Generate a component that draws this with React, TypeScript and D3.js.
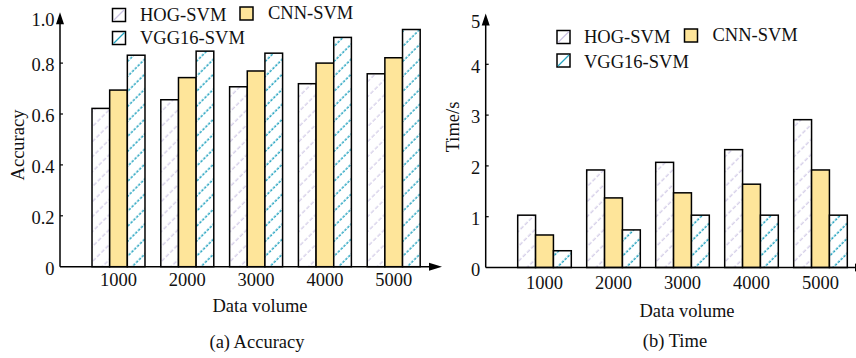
import React from 'react';
import * as d3 from 'd3';

// ---------- data ----------
const categories = ['1000', '2000', '3000', '4000', '5000'];
const seriesNames = ['HOG-SVM', 'CNN-SVM', 'VGG16-SVM'];

const accHOG = [0.622, 0.656, 0.707, 0.719, 0.758];
const accCNN = [0.694, 0.743, 0.769, 0.8, 0.821];
const accVGG = [0.831, 0.847, 0.839, 0.901, 0.932];

const timeHOG = [1.03, 1.92, 2.07, 2.32, 2.91];
const timeCNN = [0.64, 1.37, 1.47, 1.64, 1.92];
const timeVGG = [0.33, 0.74, 1.03, 1.03, 1.03];

const accTicks = [0, 0.2, 0.4, 0.6, 0.8, 1.0];
const accTickLabels = ['0', '0.2', '0.4', '0.6', '0.8', '1.0'];
const timeTicks = [0, 1, 2, 3, 4, 5];
const timeTickLabels = ['0', '1', '2', '3', '4', '5'];

// ---------- styles ----------
const FONT = '"Liberation Serif", "Times New Roman", serif';
const FS = 18.5;
const fills = ['url(#hatchHOG)', '#FEE59A', 'url(#hatchVGG)'];

type PanelProps = {
  axisX: number;
  zeroY: number;
  topY: number;
  xEnd: number;
  yMax: number;
  bandRange: [number, number];
  padInner: number;
  series: number[][];
  ticks: number[];
  tickLabels: string[];
  yLabel: string;
  yLabelX: number;
  yLabelY: number;
  xTickBaseline: number;
  xTitleX: number;
  xTitleBaseline: number;
  caption: string;
  captionX: number;
  captionBaseline: number;
  legend: { sx: number; sy: number; tx: number; ty: number }[];
};

function Panel(p: PanelProps) {
  const y = d3.scaleLinear().domain([0, p.yMax]).range([p.zeroY, p.topY]);
  const x0 = d3
    .scaleBand<string>()
    .domain(categories)
    .range(p.bandRange)
    .paddingInner(p.padInner)
    .paddingOuter(p.padInner / 2);
  const x1 = d3
    .scaleBand<string>()
    .domain(seriesNames)
    .range([0, x0.bandwidth()]);

  return (
    <g>
      {/* bars */}
      {categories.map((c, i) => (
        <g key={c} transform={`translate(${x0(c)},0)`}>
          {seriesNames.map((s, j) => {
            const v = p.series[j][i];
            return (
              <rect
                key={s}
                x={x1(s)}
                y={y(v)}
                width={x1.bandwidth()}
                height={p.zeroY - y(v)}
                fill={fills[j]}
                stroke="#000"
                strokeWidth={1.5}
              />
            );
          })}
        </g>
      ))}
      {/* y axis */}
      <line x1={p.axisX} y1={p.zeroY} x2={p.axisX} y2={p.topY + 8} stroke="#000" strokeWidth={1.5} />
      <path
        d={`M${p.axisX - 4},${p.topY + 12} L${p.axisX},${p.topY} L${p.axisX + 4},${p.topY + 12} Z`}
        fill="#000"
      />
      {/* x axis */}
      <line x1={p.axisX} y1={p.zeroY} x2={p.xEnd - 6} y2={p.zeroY} stroke="#000" strokeWidth={1.5} />
      <path
        d={`M${p.xEnd - 13},${p.zeroY - 4} L${p.xEnd},${p.zeroY} L${p.xEnd - 13},${p.zeroY + 4} Z`}
        fill="#000"
      />
      {/* y ticks */}
      {p.ticks.map((t, i) => {
        const ty = y(t);
        const isTop = i === p.ticks.length - 1;
        return (
          <g key={t}>
            {!isTop && i > 0 && (
              <line x1={p.axisX} x2={p.axisX + 3} y1={ty} y2={ty} stroke="#000" strokeWidth={1.2} />
            )}
            <text
              x={p.axisX - 5.5}
              y={ty + (isTop ? 8 : 2) + 6.25}
              textAnchor="end"
              fontFamily={FONT}
              fontSize={FS}
              fill="#111"
            >
              {p.tickLabels[i]}
            </text>
          </g>
        );
      })}
      {/* x tick labels */}
      {categories.map((c) => (
        <text
          key={c}
          x={(x0(c) as number) + x0.bandwidth() / 2}
          y={p.xTickBaseline}
          textAnchor="middle"
          fontFamily={FONT}
          fontSize={FS}
          fill="#111"
        >
          {c}
        </text>
      ))}
      {/* titles */}
      <text
        transform={`translate(${p.yLabelX},${p.yLabelY}) rotate(-90)`}
        textAnchor="middle"
        fontFamily={FONT}
        fontSize={FS}
        fill="#111"
      >
        {p.yLabel}
      </text>
      <text x={p.xTitleX} y={p.xTitleBaseline} textAnchor="middle" fontFamily={FONT} fontSize={FS} fill="#111">
        Data volume
      </text>
      <text x={p.captionX} y={p.captionBaseline} textAnchor="middle" fontFamily={FONT} fontSize={FS} fill="#111">
        {p.caption}
      </text>
      {/* legend */}
      {p.legend.map((l, j) => (
        <g key={j}>
          <rect x={l.sx} y={l.sy} width={13} height={13} fill={j === 1 ? fills[1] : '#fff'} stroke="#000" strokeWidth={1.5} />
          {j !== 1 && (
            <line
              x1={l.sx + 1}
              y1={l.sy + 12}
              x2={l.sx + 12}
              y2={l.sy + 1}
              stroke={j === 0 ? '#cbc3e3' : '#23a3c0'}
              strokeWidth={1.3}
            />
          )}
          <text x={l.tx} y={l.ty} fontFamily={FONT} fontSize={FS} fill="#111">
            {seriesNames[j]}
          </text>
        </g>
      ))}
    </g>
  );
}

export default function App() {
  return (
    <svg
      width={856}
      height={358}
      viewBox="0 0 856 358"
      style={{ position: 'absolute', left: 0, top: 0, background: '#fff' }}
    >
      <defs>
        <pattern id="hatchHOG" patternUnits="userSpaceOnUse" width={10.6} height={12} patternTransform="rotate(45)">
          <rect width={10.6} height={12} fill="#fff" />
          <line x1={5} y1={0} x2={5} y2={12} stroke="#cbc3e3" strokeWidth={1.1} strokeDasharray="4,2" />
        </pattern>
        <pattern id="hatchVGG" patternUnits="userSpaceOnUse" width={10.6} height={12} patternTransform="rotate(45)">
          <rect width={10.6} height={12} fill="#fff" />
          <line x1={5} y1={0} x2={5} y2={12} stroke="#23a3c0" strokeWidth={1.5} strokeDasharray="2.5,1.5" />
        </pattern>
      </defs>
      <rect width={856} height={358} fill="#fff" />
      <Panel
        axisX={60}
        zeroY={266.7}
        topY={12.2}
        xEnd={442}
        yMax={1.0}
        bandRange={[84.1, 428.1]}
        padInner={0.23}
        series={[accHOG, accCNN, accVGG]}
        ticks={accTicks}
        tickLabels={accTickLabels}
        yLabel="Accuracy"
        yLabelX={23.5}
        yLabelY={145}
        xTickBaseline={285.8}
        xTitleX={260}
        xTitleBaseline={312}
        caption="(a) Accuracy"
        captionX={257}
        captionBaseline={348}
        legend={[
          { sx: 112.5, sy: 8.5, tx: 140, ty: 20.7 },
          { sx: 240, sy: 7, tx: 268, ty: 19.3 },
          { sx: 112.5, sy: 31.5, tx: 140, ty: 44 },
        ]}
      />
      <Panel
        axisX={485.7}
        zeroY={267.5}
        topY={13.5}
        xEnd={868}
        yMax={5}
        bandRange={[510, 855]}
        padInner={0.223}
        series={[timeHOG, timeCNN, timeVGG]}
        ticks={timeTicks}
        tickLabels={timeTickLabels}
        yLabel="Time/s"
        yLabelX={459}
        yLabelY={127}
        xTickBaseline={288.5}
        xTitleX={687}
        xTitleBaseline={316.5}
        caption="(b) Time"
        captionX={675}
        captionBaseline={347}
        legend={[
          { sx: 557, sy: 30.5, tx: 584, ty: 43.3 },
          { sx: 684.5, sy: 29, tx: 712.5, ty: 40.7 },
          { sx: 557, sy: 54, tx: 584, ty: 67.7 },
        ]}
      />
    </svg>
  );
}
